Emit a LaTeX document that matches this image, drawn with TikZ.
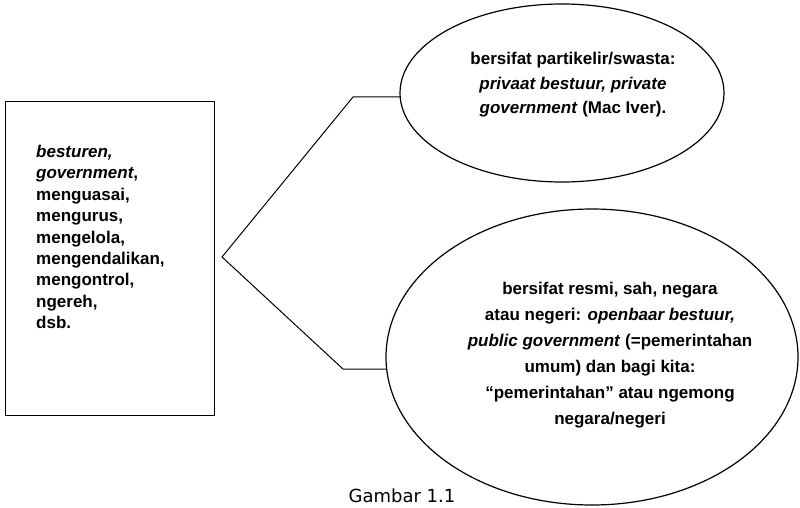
\documentclass[tikz,border=0pt]{standalone}
\usepackage{fontspec}
\setmainfont{Liberation Sans}
\newfontfamily\capfont{DejaVu Sans}
\usetikzlibrary{shapes.geometric}
\begin{document}
\begin{tikzpicture}[x=1pt,y=-1pt,
  lin/.style={draw=black,line width=1pt},
  oval/.style={draw=black,line width=1.2pt,ellipse,inner sep=0pt},
  txt/.style={font=\bfseries\fontsize{17}{21.4}\selectfont,inner sep=0pt}]
\useasboundingbox (0,0) rectangle (800,508);
% left box
\draw[lin] (5,102) rectangle (214,415);
\node[txt,align=left,anchor=north west] (lt) at (36,145) {\textit{besturen,}\\\textit{government},\\menguasai,\\mengurus,\\mengelola,\\mengendalikan,\\mengontrol,\\ngereh,\\dsb.};
% ellipses
\node[oval,minimum width=324pt,minimum height=178pt] (e1) at (562,93) {};
\node[oval,minimum width=412pt,minimum height=296pt] (e2) at (592,357) {};
\node[txt,align=center,font=\bfseries\fontsize{17}{24.5}\selectfont] (t1) at (573,85) {bersifat partikelir/swasta:\\\textit{privaat bestuur, private}\\\textit{government} (Mac Iver).};
\node[txt,align=center,font=\bfseries\fontsize{17}{26}\selectfont] (t2) at (610,355) {bersifat resmi, sah, negara\\atau negeri: \textit{openbaar bestuur,}\\\textit{public government} (=pemerintahan\\umum) dan bagi kita:\\“pemerintahan” atau ngemong\\negara/negeri};
% connectors
\coordinate (apex) at (222,257);
\coordinate (k1) at (353,97);
\coordinate (b1) at (400.2,97);
\coordinate (k2) at (343,369);
\coordinate (b2) at (386.7,369);
\draw[lin,line join=miter] (b1) -- (k1) -- (apex) -- (k2) -- (b2);
% caption
\node[font=\capfont\fontsize{18}{20}\selectfont,anchor=base,inner sep=0pt] (cap) at (402,502) {Gambar 1.1};
\end{tikzpicture}
\end{document}
